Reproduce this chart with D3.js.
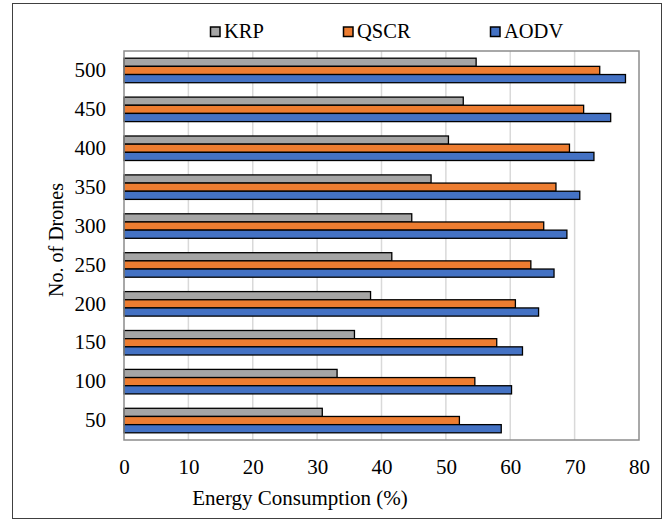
<!DOCTYPE html>
<html>
<head>
<meta charset="utf-8">
<script src="https://cdn.jsdelivr.net/npm/d3@7"></script>
<style>
  html, body { margin: 0; padding: 0; background: #fff; }
  svg { display: block; }
  text { font-family: "Liberation Serif", "Times New Roman", serif; fill: #000; }
</style>
</head>
<body>
<svg id="chart" width="667" height="520"></svg>
<script>
// Number of drones (top row of the chart first)
const drones = ["500", "450", "400", "350", "300", "250", "200", "150", "100", "50"];

// Energy consumption (%) per protocol, same order as drones
const krp  = [54.7, 52.7, 50.4, 47.7, 44.7, 41.6, 38.3, 35.8, 33.1, 30.8];
const qscr = [73.9, 71.4, 69.2, 67.1, 65.2, 63.2, 60.8, 57.9, 54.5, 52.1];
const aodv = [77.9, 75.6, 73.0, 70.8, 68.8, 66.8, 64.4, 61.9, 60.2, 58.6];

const seriesNames = ["KRP", "QSCR", "AODV"];
const seriesColors = ["#A5A5A5", "#ED7D31", "#4472C4"];
const xTicks = [0, 10, 20, 30, 40, 50, 60, 70, 80];

const series = [krp, qscr, aodv];

const svg = d3.select("#chart");
const plot = { left: 124, right: 639, top: 51, bottom: 440 };

// outer frame
svg.append("rect")
  .attr("x", 12.5).attr("y", 3.5)
  .attr("width", 649).attr("height", 515)
  .attr("fill", "none").attr("stroke", "#404040").attr("stroke-width", 1);

const x = d3.scaleLinear().domain([0, 80]).range([plot.left, plot.right]);
const y = d3.scaleBand().domain(drones).range([plot.top, plot.bottom])
  .paddingInner(0.37).paddingOuter(0.185);
const ySub = d3.scaleBand().domain(seriesNames).range([0, y.bandwidth()]);

// vertical gridlines
svg.append("g")
  .selectAll("line")
  .data(xTicks.slice(1, -1))
  .join("line")
  .attr("x1", d => x(d)).attr("x2", d => x(d))
  .attr("y1", plot.top).attr("y2", plot.bottom)
  .attr("stroke", "#D9D9D9").attr("stroke-width", 1.5);

// bars
const groups = svg.append("g")
  .selectAll("g")
  .data(drones)
  .join("g")
  .attr("transform", d => `translate(0,${y(d)})`);

groups.selectAll("rect")
  .data((d, i) => seriesNames.map((s, k) => ({ s, k, v: series[k][i] })))
  .join("rect")
  .attr("x", x(0))
  .attr("y", d => ySub(d.s))
  .attr("width", d => x(d.v) - x(0))
  .attr("height", ySub.bandwidth())
  .attr("fill", d => seriesColors[d.k])
  .attr("stroke", "#000")
  .attr("stroke-width", 1.3);

// plot area border
svg.append("rect")
  .attr("x", plot.left).attr("y", plot.top)
  .attr("width", plot.right - plot.left).attr("height", plot.bottom - plot.top)
  .attr("fill", "none").attr("stroke", "#8C8C8C").attr("stroke-width", 1.5);

// x axis labels
const xAxis = d3.axisBottom(x).tickValues(xTicks).tickSize(0).tickPadding(19);
const gx = svg.append("g").attr("transform", `translate(0,${plot.bottom})`).call(xAxis);
gx.select(".domain").remove();
gx.selectAll("text").attr("font-size", 21).attr("font-family", "Liberation Serif").attr("fill", "#000");

// y axis labels
const yAxis = d3.axisLeft(y).tickSize(0).tickPadding(18);
const gy = svg.append("g").attr("transform", `translate(${plot.left},0)`).call(yAxis);
gy.select(".domain").remove();
gy.selectAll("text").attr("font-size", 21).attr("font-family", "Liberation Serif").attr("fill", "#000");

// axis titles
svg.append("text")
  .attr("x", 300)
  .attr("y", 505)
  .attr("text-anchor", "middle")
  .attr("font-size", 21)
  .text("Energy Consumption (%)");

svg.append("text")
  .attr("transform", "translate(63,240) rotate(-90)")
  .attr("text-anchor", "middle")
  .attr("font-size", 20)
  .text("No. of Drones");

// legend
const legendX = [210, 343, 490];
const legend = svg.append("g")
  .selectAll("g")
  .data(seriesNames)
  .join("g")
  .attr("transform", (d, i) => `translate(${legendX[i]},0)`);
legend.append("rect")
  .attr("x", 0.5).attr("y", 27)
  .attr("width", 9.5).attr("height", 9.5)
  .attr("fill", (d, i) => seriesColors[i])
  .attr("stroke", "#000").attr("stroke-width", 1.5);
legend.append("text")
  .attr("x", 14).attr("y", 37.5)
  .attr("font-size", 20.5)
  .text(d => d);
</script>
</body>
</html>
